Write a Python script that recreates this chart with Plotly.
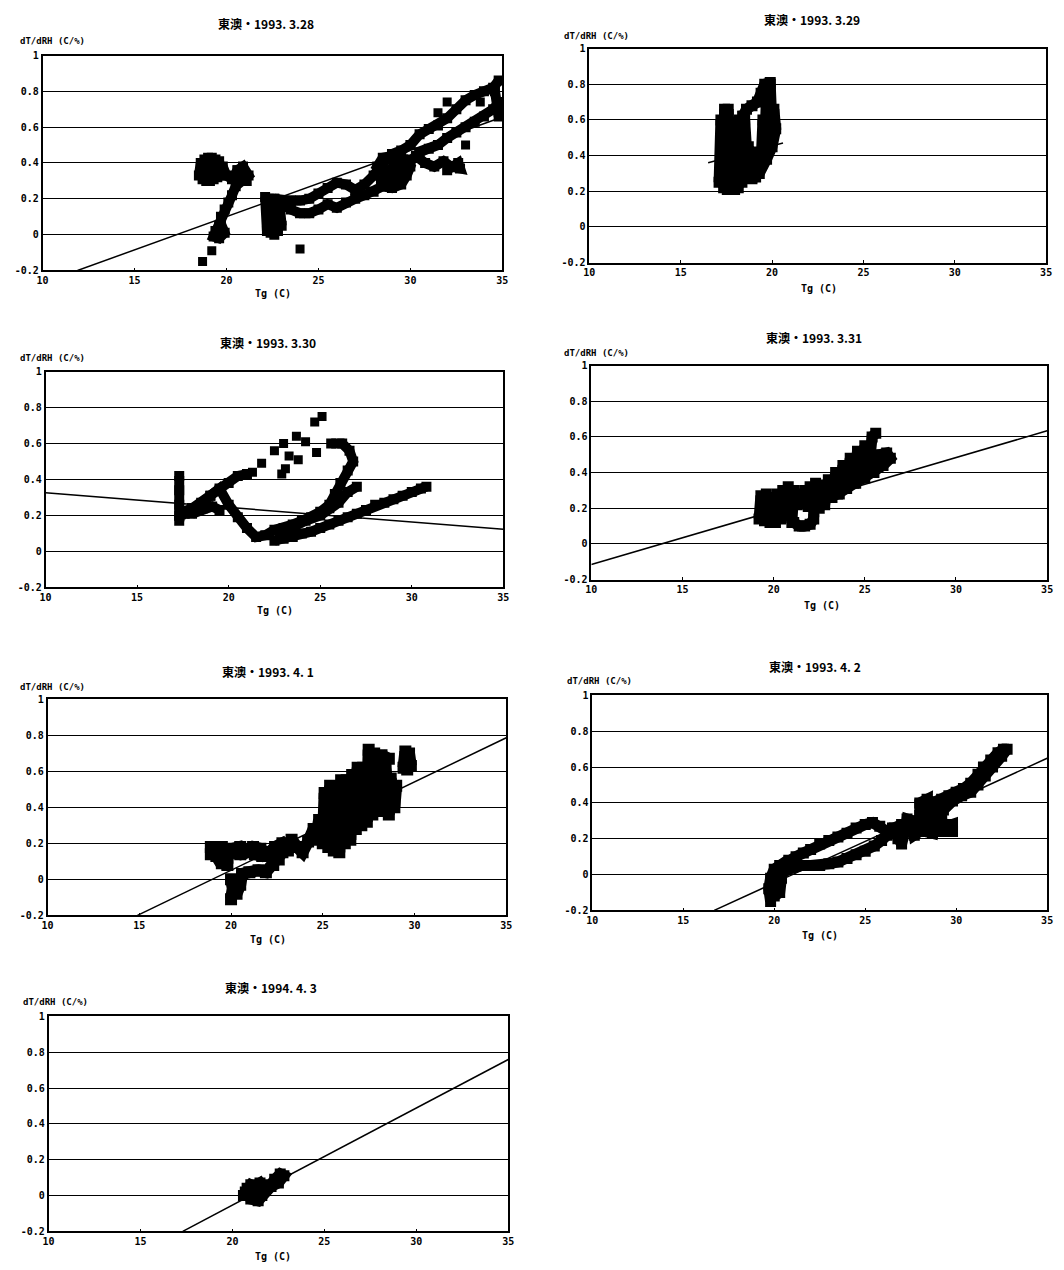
import plotly.graph_objects as go

W, H = 1064, 1270
N = None

titles = ["東澳・1993. 3.28", "東澳・1993. 3.29", "東澳・1993. 3.30", "東澳・1993. 3.31",
          "東澳・1993. 4. 1", "東澳・1993. 4. 2", "東澳・1994. 4. 3"]
y_label = "dT/dRH (C/%)"
x_label = "Tg (C)"
x_ticks = [10, 15, 20, 25, 30, 35]
y_ticks = [-0.2, 0, 0.2, 0.4, 0.6, 0.8, 1]
y_tick_text = ["-0.2", "0", "0.2", "0.4", "0.6", "0.8", "1"]

# ---- observed (Tg, dT/dRH) traces, None separates runs ----
p1_x = [18.5, 18.6, 18.7, 18.8, 18.9, 19.0, 19.1, 19.2, 19.3, 19.4, 19.5, 19.6, 19.7, 19.8, 20.0, 20.3, 20.6, 20.9,
        21.2, 20.8, 20.5, 20.3, 20.1, 19.9, 19.7, 19.6, 19.4, 19.3, 19.6, 19.9, 19.7, 19.5, N,
        20.6, 20.9, 21.1, 20.7, N,
        22.1, 22.2, 22.3, 22.4, 22.5, 22.6, 22.7, 22.8, 22.9, 23.0, 22.8, 22.6, 23.0, 23.5, 24.0, 24.5, 25.0, 25.5,
        26.0, 26.5, 27.0, 27.5, 28.0, 28.5, 29.0, 29.5, 29.8, 30.0, 29.6, 29.0, 28.5, 28.2, 28.8, 29.3, 29.6, N,
        22.6, 23.0, 23.5, 24.0, 24.5, 25.0, 25.5, 26.0, 26.5, 27.0, 27.5, 28.0, 28.5, 29.0, 29.5, 30.0, 30.5, 31.0,
        31.5, 32.0, 32.5, 33.0, 33.5, 34.0, 34.5, 34.8, N,
        29.5, 30.0, 30.5, 31.0, 31.5, 32.0, 32.5, 33.0, 33.5, 34.0, 34.5, 34.8, 34.8, 34.6, N,
        30.3, 30.8, 31.3, 31.8, 32.2, 32.7, 32.6, 32.0, N,
        28.4, 28.8, 29.2, 29.6, 29.0, 28.6]
p1_y = [0.33, 0.40, 0.31, 0.42, 0.30, 0.43, 0.30, 0.43, 0.31, 0.42, 0.32, 0.41, 0.33, 0.38, 0.33, 0.31, 0.36, 0.38,
        0.33, 0.30, 0.27, 0.22, 0.18, 0.14, 0.10, 0.05, 0.02, -0.01, -0.02, 0.01, 0.06, 0.00, N,
        0.36, 0.34, 0.30, 0.32, N,
        0.21, 0.02, 0.20, 0.01, 0.18, 0.00, 0.17, 0.02, 0.16, 0.05, 0.12, 0.20, 0.17, 0.14, 0.12, 0.12, 0.14, 0.17,
        0.15, 0.18, 0.20, 0.22, 0.24, 0.27, 0.26, 0.28, 0.33, 0.38, 0.42, 0.44, 0.43, 0.38, 0.34, 0.32, 0.36, N,
        0.20, 0.19, 0.19, 0.19, 0.20, 0.23, 0.26, 0.29, 0.28, 0.25, 0.28, 0.33, 0.40, 0.45, 0.47, 0.50, 0.56, 0.59,
        0.61, 0.65, 0.70, 0.75, 0.78, 0.80, 0.82, 0.86, N,
        0.36, 0.42, 0.46, 0.48, 0.50, 0.54, 0.57, 0.60, 0.63, 0.66, 0.70, 0.74, 0.66, 0.80, N,
        0.44, 0.40, 0.38, 0.41, 0.38, 0.37, 0.40, 0.36, N,
        0.30, 0.36, 0.40, 0.36, 0.30, 0.32]
p1_pts_x = [18.7, 19.2, 24.0, 33.0, 32.0, 31.5, 33.8]
p1_pts_y = [-0.15, -0.09, -0.08, 0.50, 0.74, 0.68, 0.74]

p2_x = [17.1, 17.2, 17.35, 17.4, 17.55, 17.6, 17.75, 17.8, 17.95, 18.0, 18.15, 18.2, 18.35, 18.4, N,
        18.5, 18.5, 18.7, 18.7, 18.9, 18.9, 19.1, 19.2, 19.4, 19.5, 19.6, 19.7, 19.8, 19.9, 20.0, 20.1, 20.2, 20.0,
        19.7, 19.3, 18.9, N,
        18.4, 18.6, 18.9, 19.2, 19.4, 19.6, 19.9]
p2_y = [0.25, 0.60, 0.22, 0.66, 0.21, 0.66, 0.21, 0.58, 0.21, 0.55, 0.22, 0.60, 0.25, 0.62, N,
        0.30, 0.60, 0.28, 0.45, 0.27, 0.40, 0.28, 0.42, 0.36, 0.60, 0.45, 0.75, 0.50, 0.80, 0.55, 0.66, 0.55, 0.45,
        0.38, 0.30, 0.28, N,
        0.62, 0.66, 0.68, 0.70, 0.75, 0.80, 0.81]

p3_x = [17.3, 17.3, 17.3, 17.3, 17.3, 17.4, 17.6, 18.0, 18.5, 19.0, 19.5, 20.0, 20.5, 21.0, N,
        17.5, 18.0, 18.5, 19.0, 19.5, 20.0, 20.5, 21.0, 21.5, 22.0, 22.5, 23.0, 23.5, 24.0, 24.5, 25.0, 25.5, 25.8,
        26.1, 26.5, 26.8, 26.6, 26.2, 25.6, N,
        18.0, 18.6, 19.1, 19.5, N,
        22.5, 23.0, 23.5, 24.0, 24.5, 25.0, 25.5, 26.0, 26.5, 27.0, 27.5, 28.0, 28.5, 29.0, 29.5, 30.0, 30.5, 30.8, N,
        22.8, 23.5, 24.2, 25.0, 25.5, 26.0, 26.5, 27.0]
p3_y = [0.42, 0.34, 0.26, 0.20, 0.17, 0.22, 0.21, 0.24, 0.27, 0.31, 0.34, 0.38, 0.42, 0.43, N,
        0.22, 0.24, 0.26, 0.31, 0.35, 0.26, 0.19, 0.13, 0.08, 0.09, 0.12, 0.13, 0.15, 0.17, 0.19, 0.22, 0.26, 0.32,
        0.38, 0.45, 0.50, 0.56, 0.60, 0.60, N,
        0.21, 0.24, 0.25, 0.23, N,
        0.06, 0.07, 0.08, 0.10, 0.11, 0.13, 0.15, 0.17, 0.19, 0.21, 0.23, 0.26, 0.27, 0.29, 0.31, 0.33, 0.35, 0.36, N,
        0.10, 0.14, 0.17, 0.20, 0.24, 0.27, 0.33, 0.36]
p3_pts_x = [21.3, 21.8, 22.5, 23.0, 23.7, 24.2, 23.3, 23.8, 24.8, 24.7, 25.1, 23.1, 22.9]
p3_pts_y = [0.44, 0.49, 0.56, 0.60, 0.64, 0.61, 0.53, 0.51, 0.55, 0.72, 0.75, 0.46, 0.43]

p4_x = [19.2, 19.3, 19.5, 19.6, 19.8, 19.9, 20.1, 20.2, 20.4, 20.5, 20.7, 20.8, 21.0, 21.1, 21.3, 21.4, 21.6, 21.7,
        21.9, 22.0, 22.2, 22.3, 22.5, 22.6, 22.8, 23.0, 23.2, 23.4, 23.6, 23.8, 24.0, 24.2, 24.4, 24.6, 24.8, 25.0,
        25.2, 25.4, 25.6, N,
        21.1, 21.4, 21.7, 22.0, 22.2, N,
        22.5, 23.0, 23.5, 24.0, 24.5, 25.0, 25.5, 26.0, 26.4, 26.2, 25.8, 25.5, 25.2, 24.8]
p4_y = [0.14, 0.27, 0.13, 0.28, 0.12, 0.26, 0.12, 0.28, 0.14, 0.30, 0.16, 0.32, 0.12, 0.30, 0.22, 0.28, 0.23, 0.30,
        0.21, 0.32, 0.18, 0.34, 0.20, 0.33, 0.22, 0.36, 0.26, 0.40, 0.28, 0.44, 0.31, 0.48, 0.34, 0.52, 0.37, 0.55,
        0.40, 0.60, 0.62, N,
        0.12, 0.10, 0.10, 0.11, 0.14, N,
        0.22, 0.26, 0.28, 0.31, 0.34, 0.37, 0.40, 0.44, 0.48, 0.51, 0.50, 0.47, 0.44, 0.44]

p5_x = [18.9, 19.2, 19.5, 19.8, 20.1, 20.5, 20.8, 21.2, 21.6, 22.0, 22.4, 22.8, 23.1, 23.3, 23.6, 23.9, 24.2, 24.5,
        24.7, N,
        18.9, 19.3, 19.7, 20.1, 20.5, 20.9, 21.3, 21.7, 22.1, 22.5, N,
        19.5, 19.8, N,
        20.0, 20.1, 20.0, 20.3, 20.5, 20.6, 21.0, 21.5, 21.9, 22.3, 22.6, 22.8, N,
        24.6, 24.8, 25.0, 25.1, 25.3, 25.4, 25.6, 25.7, 25.9, 26.0, 26.2, 26.3, 26.5, 26.6, 26.8, 26.9, 27.1, 27.2,
        27.4, 27.5, 27.7, 27.8, 28.0, 28.1, 28.3, 28.4, 28.6, 28.7, 28.9, 29.0, N,
        29.4, 29.5, 29.6, 29.7, 29.8, 29.5, N, 28.2, 28.6]
p5_y = [0.18, 0.13, 0.18, 0.12, 0.17, 0.18, 0.15, 0.18, 0.17, 0.14, 0.18, 0.20, 0.16, 0.22, 0.18, 0.15, 0.21, 0.28,
        0.23, N,
        0.14, 0.16, 0.13, 0.15, 0.14, 0.16, 0.14, 0.13, 0.15, 0.16, N,
        0.09, 0.08, N,
        -0.11, -0.05, 0.00, -0.08, -0.03, 0.03, 0.04, 0.05, 0.04, 0.08, 0.11, 0.15, N,
        0.22, 0.33, 0.20, 0.48, 0.18, 0.52, 0.16, 0.50, 0.15, 0.55, 0.20, 0.55, 0.22, 0.58, 0.28, 0.62, 0.30, 0.62,
        0.32, 0.72, 0.36, 0.70, 0.38, 0.64, 0.42, 0.66, 0.36, 0.56, 0.40, 0.52, N,
        0.62, 0.71, 0.61, 0.70, 0.63, 0.66, N, 0.69, 0.67]

p6_x = [19.8, 19.7, 19.8, 20.0, 20.3, 20.4, 20.3, 20.0, 20.1, 20.2, N,
        20.4, 20.8, 21.2, 21.6, 22.0, 22.5, 23.0, 23.5, 24.0, 24.5, 25.0, 25.4, 25.8, 26.2, 26.6, 27.0, N,
        20.5, 21.0, 21.5, 22.0, 22.5, 23.0, 23.5, 24.0, 24.5, 25.0, 25.5, 25.9, 26.2, 26.5, N,
        26.5, 26.8, 27.0, 27.2, 27.3, 27.6, 27.7, 28.0, 28.0, 28.0, 28.4, 28.4, 28.3, 28.7, 28.8, 28.8, 29.2, 29.2,
        29.5, 29.8, 29.8, 29.2, N,
        28.7, 29.2, 29.6, 30.0, 30.4, 30.8, 31.2, 31.5, 31.9, 32.3, 32.6, 32.8, 32.5, 32.0, 31.6, 31.2, 30.8, 30.3,
        29.8, 29.3, 28.9]
p6_y = [-0.15, -0.08, -0.02, 0.03, 0.05, -0.02, -0.10, -0.12, -0.05, 0.00, N,
        0.05, 0.08, 0.10, 0.12, 0.14, 0.17, 0.19, 0.21, 0.23, 0.26, 0.28, 0.29, 0.27, 0.24, 0.26, 0.28, N,
        0.02, 0.04, 0.05, 0.05, 0.05, 0.06, 0.07, 0.09, 0.11, 0.13, 0.16, 0.19, 0.22, 0.25, N,
        0.26, 0.20, 0.17, 0.25, 0.31, 0.30, 0.22, 0.24, 0.33, 0.40, 0.42, 0.32, 0.24, 0.23, 0.32, 0.40, 0.38, 0.30,
        0.27, 0.28, 0.24, 0.24, N,
        0.40, 0.42, 0.44, 0.46, 0.48, 0.51, 0.56, 0.60, 0.64, 0.68, 0.70, 0.70, 0.66, 0.60, 0.55, 0.50, 0.46, 0.44,
        0.41, 0.36, 0.34]

p7_x = [20.6, 20.8, 21.0, 21.2, 21.5, 21.7, 22.0, 22.3, 22.6, 22.8, 22.5, 22.1, 21.6, 21.4, 21.0, 20.7, 21.0, 21.3,
        21.6, 21.9]
p7_y = [0.00, 0.04, 0.06, 0.05, 0.07, 0.04, 0.05, 0.09, 0.12, 0.11, 0.07, 0.05, 0.00, -0.03, -0.02, 0.02, 0.01,
        0.03, 0.03, 0.06]

# ---- regression line end points ----
fit_x = [[11.9, 35.0], [16.5, 20.6], [10.0, 35.0], [10.0, 35.0], [14.9, 35.0], [16.7, 35.0], [17.3, 35.0]]
fit_y = [[-0.2, 0.657], [0.36, 0.47], [0.326, 0.123], [-0.116, 0.634], [-0.2, 0.787], [-0.2, 0.649], [-0.2, 0.759]]

paths_x = [p1_x, p2_x, p3_x, p4_x, p5_x, p6_x, p7_x]
paths_y = [p1_y, p2_y, p3_y, p4_y, p5_y, p6_y, p7_y]
pts_x = [p1_pts_x, [], p3_pts_x, [], [], [], []]
pts_y = [p1_pts_y, [], p3_pts_y, [], [], [], []]
stroke = [10, 11, 10, 11, 12, 11, 11]

# plot-area pixel boxes (x0, x1, y0, y1)
boxes = [(37, 502, 50, 267), (590, 1052, 43, 259), (40, 503, 369, 587), (592, 1053, 363, 579),
         (42, 506, 700, 918), (593, 1053, 696, 913), (43, 508, 1020, 1237)]
title_pos = [(263, 18), (815, 14), (265, 340), (817, 335), (265, 672), (818, 667), (268, 991)]
ylab_pos = [(12, 35), (562, 30), (12, 355), (562, 350), (12, 687), (565, 681), (15, 1006)]
xlab_pos = [(270, 290), (822, 285), (272, 610), (825, 605), (265, 942), (823, 938), (270, 1262)]

fig = go.Figure()
layout = dict(width=W, height=H, margin=dict(l=0, r=0, t=0, b=0), autosize=False,
              paper_bgcolor="white", plot_bgcolor="white", showlegend=False)
annotations = []
tick_font = dict(family="DejaVu Sans Mono", size=10, color="black", weight="bold")

for i in range(7):
    xa = "x" if i == 0 else f"x{i+1}"
    ya = "y" if i == 0 else f"y{i+1}"
    x0, x1, y0, y1 = boxes[i]
    layout["xaxis" if i == 0 else f"xaxis{i+1}"] = dict(
        domain=[x0 / W, x1 / W], range=[10, 35], anchor=ya, tickvals=x_ticks,
        ticktext=[str(t) for t in x_ticks], tickfont=tick_font, showgrid=False, zeroline=False,
        showline=True, linecolor="black", linewidth=1.5, mirror=True, ticks="inside", ticklen=3,
        tickcolor="black", fixedrange=True)
    layout["yaxis" if i == 0 else f"yaxis{i+1}"] = dict(
        domain=[1 - y1 / H, 1 - y0 / H], range=[-0.2, 1], anchor=xa, tickvals=y_ticks,
        ticktext=y_tick_text, tickfont=tick_font, showgrid=True, gridcolor="black", gridwidth=1,
        zeroline=False, showline=True, linecolor="black", linewidth=1.5, mirror=True, ticks="",
        fixedrange=True)
    fig.add_trace(go.Scatter(x=paths_x[i], y=paths_y[i], mode="lines+markers", xaxis=xa, yaxis=ya,
                             line=dict(color="black", width=stroke[i]), connectgaps=False,
                             marker=dict(symbol="square", size=stroke[i], color="black")))
    if pts_x[i]:
        fig.add_trace(go.Scatter(x=pts_x[i], y=pts_y[i], mode="markers", xaxis=xa, yaxis=ya,
                                 marker=dict(symbol="square", size=9, color="black")))
    fig.add_trace(go.Scatter(x=fit_x[i], y=fit_y[i], mode="lines", xaxis=xa, yaxis=ya,
                             line=dict(color="black", width=1.5)))
    tx, ty = title_pos[i]
    annotations.append(dict(text=titles[i], x=tx / W, y=1 - ty / H, xref="paper", yref="paper",
                            showarrow=False, xanchor="center", yanchor="middle",
                            font=dict(family="Noto Sans CJK TC", size=12, color="black", weight="bold")))
    lx, ly = ylab_pos[i]
    annotations.append(dict(text=y_label, x=lx / W, y=1 - ly / H, xref="paper", yref="paper",
                            showarrow=False, xanchor="left", yanchor="middle",
                            font=dict(family="DejaVu Sans Mono", size=9, color="black", weight="bold")))
    bx, by = xlab_pos[i]
    annotations.append(dict(text=x_label, x=bx / W, y=1 - by / H, xref="paper", yref="paper",
                            showarrow=False, xanchor="center", yanchor="middle",
                            font=dict(family="DejaVu Sans Mono", size=10, color="black", weight="bold")))

layout["annotations"] = annotations
fig.update_layout(**layout)
fig.write_html("out.html", config={"displayModeBar": False},
               post_script="document.body.style.margin='0';document.body.style.padding='0';")
